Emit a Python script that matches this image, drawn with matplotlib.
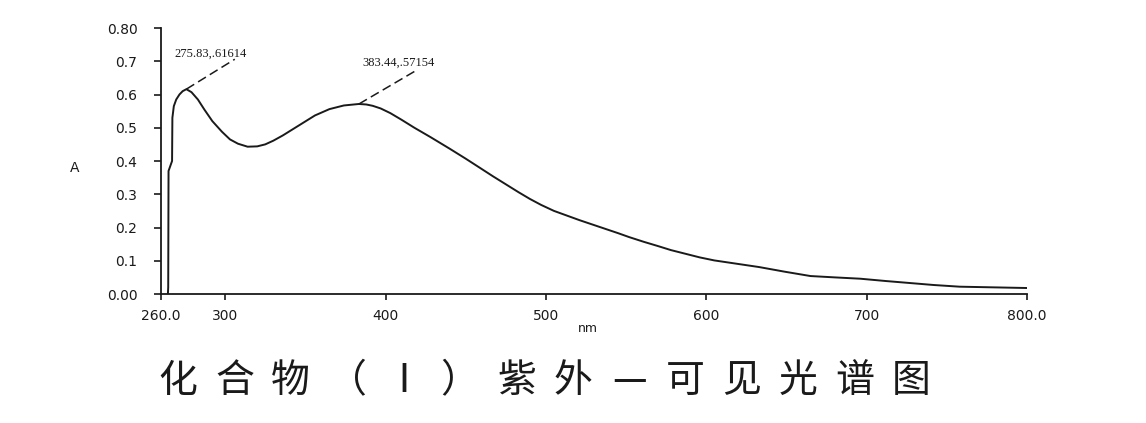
import matplotlib
matplotlib.use("Agg")
import matplotlib.pyplot as plt

# ---- data ----
wavelength = [264.3, 264.5, 264.7, 266.9, 267.1, 268.0, 269.5, 271.5, 273.5, 275.83,
              279, 283, 287, 292, 298, 303, 308, 314, 320, 325, 330, 336, 341, 347,
              356, 365, 374, 383.44, 388, 392, 397, 403, 410, 418, 428, 440, 450,
              459, 467, 475, 483, 490, 497, 505, 513, 521, 529, 537, 545, 552, 561,
              570, 578, 587, 596, 605, 619, 633, 649, 665, 680, 696, 712, 727, 742,
              758, 779, 800]
absorbance = [0.0, 0.02, 0.37, 0.40, 0.53, 0.565, 0.585, 0.600, 0.610, 0.616,
              0.607, 0.585, 0.555, 0.520, 0.488, 0.465, 0.452, 0.443, 0.444, 0.450, 0.461, 0.477, 0.492, 0.510,
              0.537, 0.556, 0.567, 0.5715, 0.570, 0.566, 0.558, 0.544, 0.524, 0.500, 0.472, 0.437, 0.407,
              0.379, 0.354, 0.330, 0.306, 0.286, 0.268, 0.250, 0.236, 0.222, 0.209, 0.196, 0.183, 0.171, 0.157,
              0.144, 0.132, 0.121, 0.110, 0.101, 0.091, 0.081, 0.067, 0.054, 0.050, 0.046, 0.039, 0.033, 0.027,
              0.022, 0.020, 0.018]

peaks_x = [275.83, 383.44]
peaks_y = [0.61614, 0.57154]
peak_labels = ["275.83,.61614", "383.44,.57154"]
label_pos = [(268.5, 0.722), (385.5, 0.695)]
leader_end = [(306.0, 0.706), (419.0, 0.672)]

xticks = [260, 300, 400, 500, 600, 700, 800]
xtick_labels = ["260.0", "300", "400", "500", "600", "700", "800.0"]
yticks = [0.0, 0.1, 0.2, 0.3, 0.4, 0.5, 0.6, 0.7, 0.8]
ytick_labels = ["0.00", "0.1", "0.2", "0.3", "0.4", "0.5", "0.6", "0.7", "0.80"]

title = "化合物（Ⅰ）紫外—可见光谱图"

# ---- figure ----
W, H = 1146, 423
fig = plt.figure(figsize=(W / 100, H / 100), dpi=100)
ax = fig.add_axes([161 / W, 1 - 294 / H, (1027 - 161) / W, (294 - 28) / H])

ax.plot(wavelength, absorbance, color="#1a1a1a", lw=1.4)

for (px, py), lab, (tx, ty), (ex, ey) in zip(zip(peaks_x, peaks_y), peak_labels, label_pos, leader_end):
    ax.plot([px, ex], [py, ey], color="#1a1a1a", lw=1.1, ls=(0, (6, 3)))
    ax.text(tx, ty, lab, fontsize=9, family="Liberation Serif", color="#1a1a1a",
            ha="left", va="center")

ax.set_xlim(260, 800)
ax.set_ylim(0, 0.80)
ax.set_xticks(xticks)
ax.set_xticklabels(xtick_labels)
ax.set_yticks(yticks)
ax.set_yticklabels(ytick_labels)
for s in ["top", "right"]:
    ax.spines[s].set_visible(False)
for s in ["left", "bottom"]:
    ax.spines[s].set_linewidth(1.3)
    ax.spines[s].set_color("#1a1a1a")
ax.tick_params(axis="x", length=4, width=1.2, pad=7, labelsize=10, colors="#1a1a1a")
ax.tick_params(axis="y", length=5, width=1.2, pad=12, labelsize=10, colors="#1a1a1a")

fig.text(75 / W, 1 - 168 / H, "A", fontsize=10, ha="center", va="center", color="#1a1a1a")
fig.text(588 / W, 1 - 328 / H, "nm", fontsize=9, ha="center", va="center", color="#1a1a1a")

# title, one character per cell
x0, pitch = 178, 56.4
for i, ch in enumerate(title):
    fig.text((x0 + i * pitch) / W, 1 - 381 / H, ch, fontsize=28,
             family=["Noto Sans CJK SC", "DejaVu Sans"], ha="center", va="center",
             color="#1a1a1a")

fig.savefig("out.png", dpi=100)
